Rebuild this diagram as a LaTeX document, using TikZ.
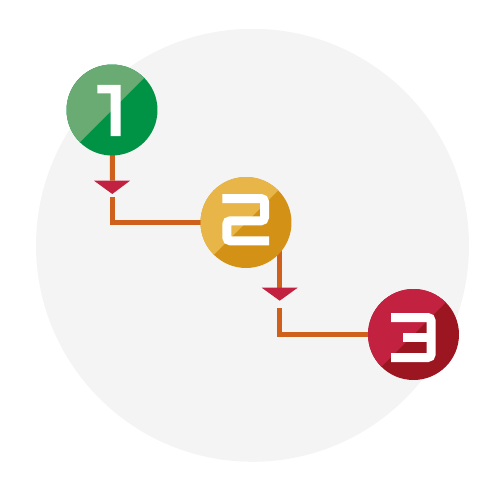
\documentclass[tikz,border=0pt]{standalone}
\usetikzlibrary{backgrounds,calc}
\definecolor{bggray}{HTML}{F4F4F4}
\definecolor{gLight}{RGB}{106,170,115}
\definecolor{gDark}{RGB}{0,146,69}
\definecolor{yLight}{RGB}{232,182,72}
\definecolor{yDark}{RGB}{211,146,22}
\definecolor{rLight}{RGB}{194,34,64}
\definecolor{rDark}{RGB}{156,22,33}
\definecolor{lineOr}{RGB}{207,96,28}
\definecolor{triRed}{RGB}{194,34,64}
\tikzset{
  stepcircle/.style 2 args={circle, minimum size=1.82cm, inner sep=0pt, fill=#2,
    path picture={\fill[#1] (path picture bounding box.north west) -- (path picture bounding box.north east) -- (path picture bounding box.south west) -- cycle;}},
  conn/.style={draw=lineOr, line width=0.1cm},
  digit/.style={draw=white, line width=0.18cm, line cap=butt, line join=miter, rounded corners=0.07cm},
  arrowtri/.style={fill=triRed}
}
\begin{document}
\begin{tikzpicture}[x=0.02cm,y=-0.02cm]
\useasboundingbox (0,0) rectangle (500,500);
% step circles
\node[stepcircle={gLight}{gDark}] (g) at (112,110) {};
\node[stepcircle={yLight}{yDark}] (y) at (246,222.5) {};
\node[stepcircle={rLight}{rDark}] (r) at (413.5,334.5) {};
% digits
\fill[white] (97.3,85) -- (120.7,85) -- (120.7,136) -- (110.7,136) -- (110.7,93.3) -- (97.3,93.3) -- cycle;
\draw[digit] (222.3,198.5) -- (264.5,198.5) -- (264.5,220.8) -- (226.8,220.8) -- (226.8,240.8) -- (269,240.8);
\draw[digit] (391,317.5) -- (431.2,317.5) -- (431.2,357.5) -- (391,357.5);
\draw[digit, rounded corners=0] (403.3,337.5) -- (431.2,337.5);
% arrow coordinates
\coordinate (t1) at (112.5,180.7);
\coordinate (t1b) at (112.5,197.3);
\coordinate (t2) at (279.7,287.7);
\coordinate (t2b) at (279.7,308.3);
\fill[arrowtri] (94,180.7) -- (130,180.7) -- (112.3,194) -- cycle;
\fill[arrowtri] (261.7,287.7) -- (297.7,287.7) -- (279.7,300.7) -- cycle;
\begin{scope}[on background layer]
\fill[bggray] (252.5,245.3) circle[radius=216.5];
\draw[conn] (g.center) -- (t1);
\draw[conn] (t1b) |- (y.center);
\draw[conn] (t2 |- y.center) -- (t2);
\draw[conn] (t2b) |- (r.center);
\end{scope}
\end{tikzpicture}
\end{document}
